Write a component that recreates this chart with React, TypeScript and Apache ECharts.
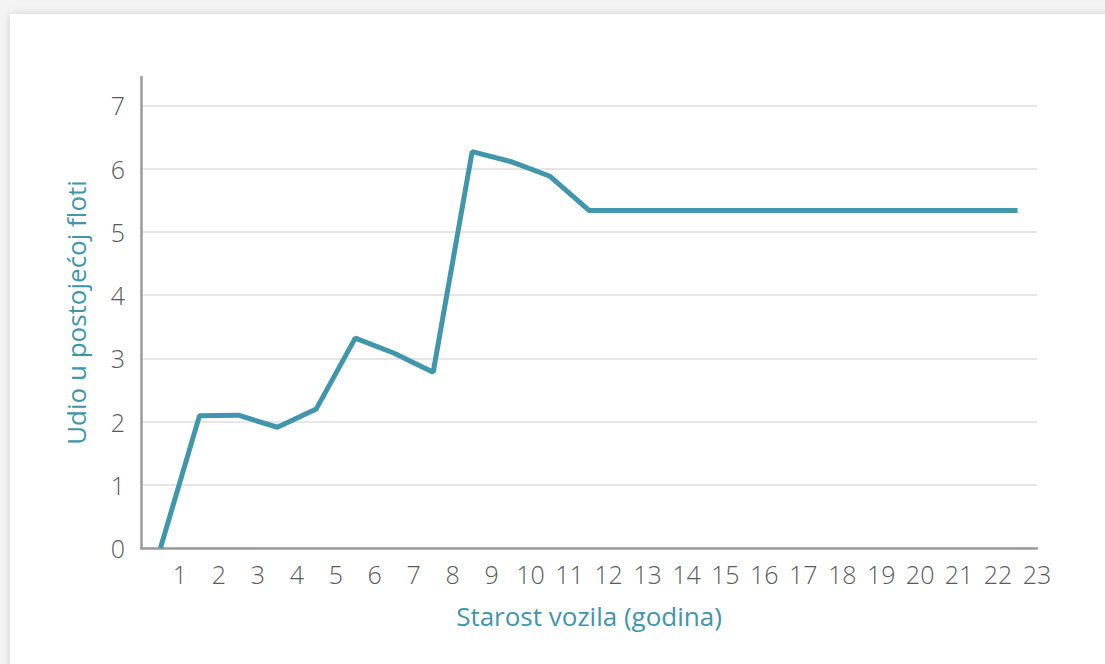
import React, { useEffect, useRef } from "react";
import * as echarts from "echarts";

const xTickLabels: number[] = [1, 2, 3, 4, 5, 6, 7, 8, 9, 10, 11, 12, 13, 14, 15, 16, 17, 18, 19, 20, 21, 22, 23];
const shareValues: number[] = [0, 2.09, 2.1, 1.91, 2.2, 3.32, 3.08, 2.78, 6.27, 6.11, 5.88, 5.34, 5.34, 5.34, 5.34, 5.34, 5.34, 5.34, 5.34, 5.34, 5.34, 5.34, 5.34];
const yTickLabels: number[] = [0, 1, 2, 3, 4, 5, 6, 7];
const xAxisTitle = "Starost vozila (godina)";
const yAxisTitle = "Udio u postojećoj floti";

const FONT = "'Open Sans', Lato, sans-serif";
const TEAL = "#4096ab";

export default function App() {
  const ref = useRef<HTMLDivElement>(null);
  useEffect(() => {
    document.body.style.margin = "0";
    if (!ref.current) return;
    const chart = echarts.init(ref.current, null, { renderer: "svg" });
    chart.setOption({
      animation: false,
      grid: { left: 141, right: 68, top: 77, bottom: 116, containLabel: false },
      xAxis: {
        type: "value",
        min: 0,
        max: xTickLabels[xTickLabels.length - 1],
        interval: 1,
        axisLine: { show: true, lineStyle: { color: "#9b9b9b", width: 2.5 } },
        axisTick: { show: false },
        splitLine: { show: false },
        axisLabel: {
          formatter: (v: number) => (xTickLabels.includes(v) ? String(v) : ""),
          color: "#5a5a5a",
          fontSize: 25,
          fontWeight: 300,
          fontFamily: FONT,
          margin: 13,
          showMinLabel: false,
        },
        name: xAxisTitle,
        nameLocation: "middle",
        nameGap: 55,
        nameTextStyle: { color: TEAL, fontSize: 26, fontFamily: FONT, fontWeight: 500 },
      },
      yAxis: {
        type: "value",
        min: 0,
        max: 7.45,
        interval: 1,
        axisLine: { show: true, lineStyle: { color: "#9b9b9b", width: 2.5 } },
        axisTick: { show: false },
        splitLine: { show: true, showMaxLine: false, lineStyle: { color: "#dedede", width: 1.5 } },
        axisLabel: {
          formatter: (v: number) => (yTickLabels.includes(v) ? String(v) : ""),
          color: "#5a5a5a",
          fontSize: 25,
          fontWeight: 300,
          fontFamily: FONT,
          margin: 16,
          showMaxLabel: false,
        },
        name: yAxisTitle,
        nameLocation: "middle",
        nameGap: 52,
        nameTextStyle: { color: TEAL, fontSize: 26, fontFamily: FONT, fontWeight: 500 },
      },
      series: [
        {
          type: "line",
          data: shareValues.map((v, i) => [i + 0.5, v]),
          showSymbol: false,
          symbol: "none",
          lineStyle: { color: TEAL, width: 5 },
        },
      ],
    });
    return () => chart.dispose();
  }, []);

  return (
    <div style={{ position: "relative", width: 1105, height: 664, background: "#f4f4f4", overflow: "hidden" }}>
      <div
        style={{
          position: "absolute",
          left: 10,
          top: 14,
          width: 1120,
          height: 700,
          background: "#ffffff",
          boxShadow: "0 0 8px rgba(0,0,0,0.15)",
        }}
      />
      <div ref={ref} style={{ position: "absolute", left: 0, top: 0, width: 1105, height: 664 }} />
    </div>
  );
}
